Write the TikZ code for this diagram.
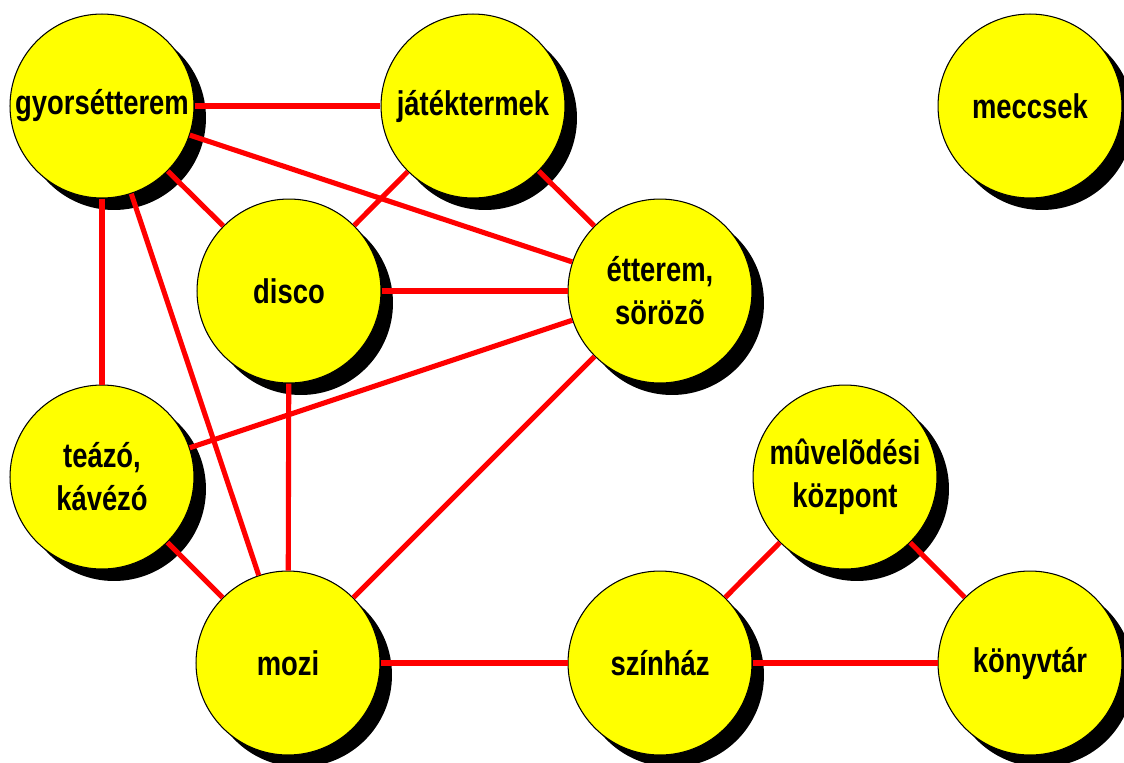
\documentclass[tikz,border=0pt]{standalone}
\usepackage{fontspec}
\newfontfamily\placefont{Liberation Sans}[FakeStretch=0.8]
\usepackage{tikz}
\usetikzlibrary{shadows}
\definecolor{placeyellow}{RGB}{255,255,0}
\definecolor{linkred}{RGB}{255,0,0}

\begin{document}
\begin{tikzpicture}[
    x=0.02cm,
    y=-0.02cm,
    place/.style={circle,draw=black,line width=0.6pt,fill=placeyellow,minimum size=3.68cm,inner sep=0pt,
      align=center,font=\placefont\bfseries\fontsize{19.5}{24.5}\selectfont,
      drop shadow={shadow xshift=0.24cm,shadow yshift=-0.24cm,fill=black,opacity=1}},
    link/.style={draw=linkred,line width=2.9pt}
  ]
    \useasboundingbox (0,0) rectangle (1124,762);

    \node[place] (gyors) at (102,106) {gyorsétterem};
    \node[place] (jatek) at (473,106) {játéktermek};
    \node[place] (meccsek) at (1030,106) {meccsek};
    \node[place] (disco) at (289,291) {disco};
    \node[place] (etterem) at (660,291) {étterem,\\sörözõ};
    \node[place] (teazo) at (102,477) {teázó,\\kávézó};
    \node[place] (muvelodes) at (845,477) {mûvelõdési\\központ};
    \node[place] (mozi) at (288,663) {mozi};
    \node[place] (szinhaz) at (660,663) {színház};
    \node[place] (konyvtar) at (1030,663) {könyvtár};

    \foreach \a/\b in {gyors/jatek,gyors/etterem,gyors/disco,gyors/teazo,gyors/mozi,
                       jatek/disco,jatek/etterem,disco/etterem,disco/mozi,
                       etterem/teazo,etterem/mozi,teazo/mozi,mozi/szinhaz,
                       szinhaz/muvelodes,szinhaz/konyvtar,muvelodes/konyvtar} {
      \draw[link] (\a) -- (\b);
    }
  \end{tikzpicture}
\end{document}
